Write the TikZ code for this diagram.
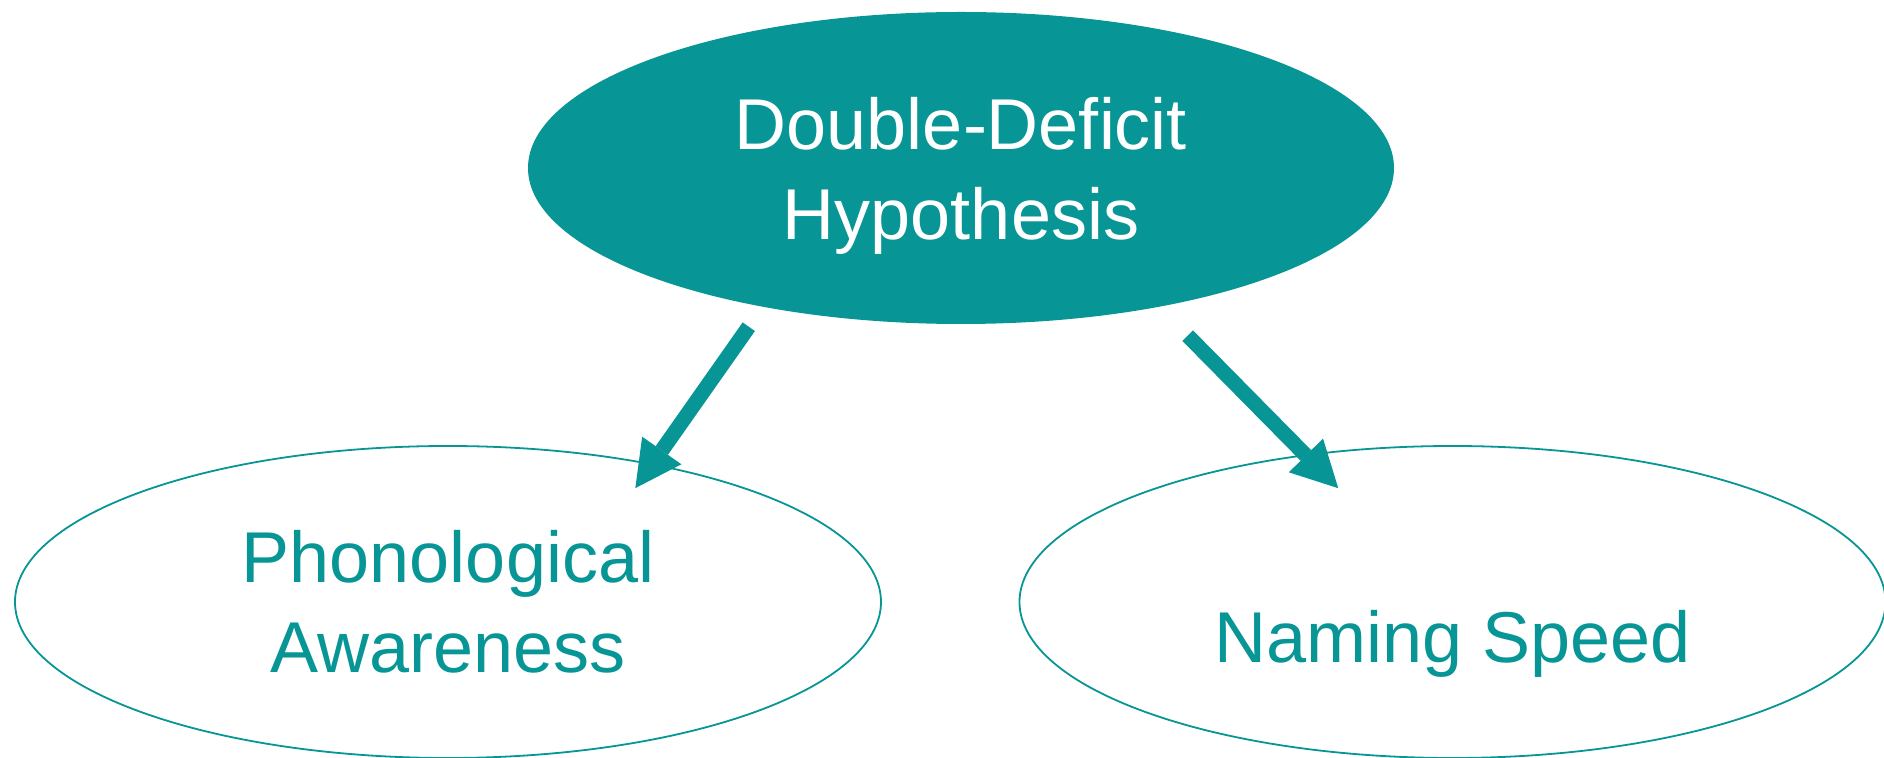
\documentclass[tikz,border=0pt]{standalone}
\usepackage{fontspec}
\setmainfont{Liberation Sans}
\usetikzlibrary{arrows.meta,shapes.geometric,positioning}
\definecolor{ddteal}{RGB}{7,149,149}

\begin{document}
\begin{tikzpicture}[node distance=3cm,node font=\fontsize{36}{45}\selectfont,on grid,auto]
	\tikzstyle{every node}=[ellipse,inner sep=0pt,outer sep=0pt,minimum width=433pt,minimum height=156pt,align=center]
	\tikzstyle{factor}=[draw=ddteal,line width=0.9pt,text=ddteal]
	\tikzstyle{link}=[color=ddteal,line width=7.5pt,-{Triangle[length=23pt,width=24pt,line width=0pt]}]
	\useasboundingbox (-480.5pt,84pt) rectangle (461.5pt,-295pt);
	
	\node[fill=ddteal,text=white,text depth=0pt] (DD) {Double-Deficit\\Hypothesis};
	\node[factor] (PA) [below left=217pt and 256.5pt of DD] {Phonological\\Awareness};
	\node[factor,text height=61pt,text depth=0pt] (NS) [below right=217pt and 245.75pt of DD] {Naming Speed};
	
	\path
	(DD.215.8) edge [link,shorten <=12.25pt,shorten >=-14.5pt] (PA.34.4)
	(DD.-35.5) edge [link,shorten <=20.35pt,shorten >=-23.15pt] (NS.135.5);
\end{tikzpicture}
\end{document}
